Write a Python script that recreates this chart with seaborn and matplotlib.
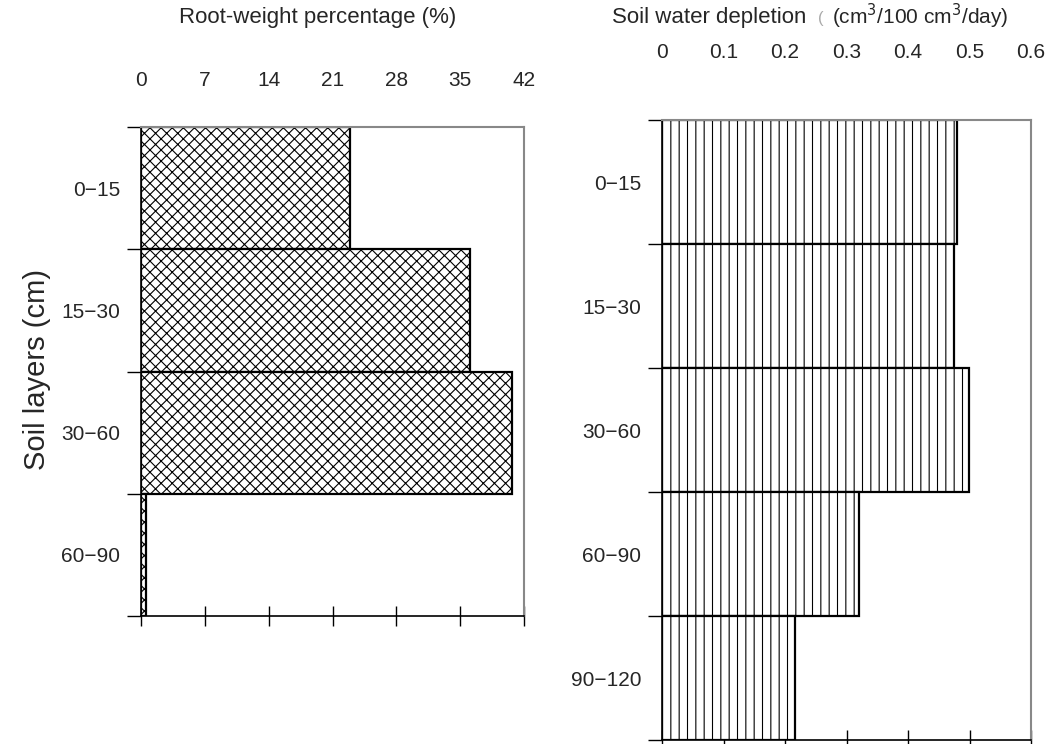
import matplotlib
matplotlib.use('Agg')
import matplotlib.pyplot as plt
import seaborn as sns
import numpy as np

# data
root_layers = ['0−15', '15−30', '30−60', '60−90']
root_pct = [22.9, 36.1, 40.7, 0.5]
root_ticks = [0, 7, 14, 21, 28, 35, 42]

water_layers = ['0−15', '15−30', '30−60', '60−90', '90−120']
water_depletion = [0.480, 0.475, 0.499, 0.320, 0.217]
water_ticks = [0, 0.1, 0.2, 0.3, 0.4, 0.5, 0.6]

sns.set_style('white')
plt.rcParams['font.family'] = ['Liberation Sans', 'DejaVu Sans']
plt.rcParams['hatch.linewidth'] = 0.8

fig = plt.figure(figsize=(10.47, 7.44), dpi=100)
ax1 = fig.add_axes([141 / 1047, 1 - 616 / 744, 383 / 1047, 489 / 744])
ax2 = fig.add_axes([662 / 1047, 1 - 740 / 744, 369 / 1047, 620 / 744])


def style_panel(ax, labels, values, ticks, hatch, pad_top):
    sns.barplot(x=values, y=labels, orient='h', color='white', edgecolor='black',
                linewidth=1.6, width=1.0, ax=ax)
    for p in ax.patches:
        p.set_hatch(hatch)
    n = len(labels)
    ax.set_xlim(ticks[0], ticks[-1])
    ax.set_ylim(n - 0.5, -0.5)
    ax.set_xticks(ticks)
    ax.set_xticklabels([f'{t:g}' for t in ticks], fontsize=15)
    ax.tick_params(axis='x', bottom=True, top=False, labelbottom=False, labeltop=True,
                   direction='inout', length=14, width=1, color='black', pad=pad_top)
    # ticks at layer boundaries, labels at layer centres
    ax.set_yticks(np.arange(n + 1) - 0.5)
    ax.set_yticklabels([])
    ax.set_yticks(np.arange(n), minor=True)
    ax.set_yticklabels(labels, minor=True, fontsize=15)
    ax.tick_params(axis='y', which='major', left=True, direction='out', length=10,
                   width=1, color='black')
    ax.tick_params(axis='y', which='minor', left=False, length=0, pad=15)
    ax.set_xlabel('')
    ax.set_ylabel('')
    for side in ['left', 'bottom']:
        ax.spines[side].set_color('black')
        ax.spines[side].set_linewidth(1.2)
    for side in ['right', 'top']:
        ax.spines[side].set_color('#888888')
        ax.spines[side].set_linewidth(1.5)
        ax.spines[side].set_visible(True)


style_panel(ax1, root_layers, root_pct, root_ticks, 'xxx', 20)
style_panel(ax2, water_layers, water_depletion, water_ticks, '||', 35)

fig.text(318 / 1047, 1 - 18 / 744, 'Root-weight percentage (%)', ha='center', va='center',
         fontsize=16)
fig.text(612 / 1047, 1 - 18 / 744, 'Soil water depletion', ha='left', va='center',
         fontsize=16)
fig.text(818 / 1047, 1 - 18 / 744, '(', ha='left', va='center', fontsize=12, color='#aaaaaa')
fig.text(832 / 1047, 1 - 16 / 744, '(cm$^3$/100 cm$^3$/day)', ha='left', va='center',
         fontsize=15)
fig.text(37 / 1047, 1 - 370 / 744, 'Soil layers (cm)', rotation=90, ha='center',
         va='center', fontsize=21)

fig.savefig('out.png', dpi=100)
